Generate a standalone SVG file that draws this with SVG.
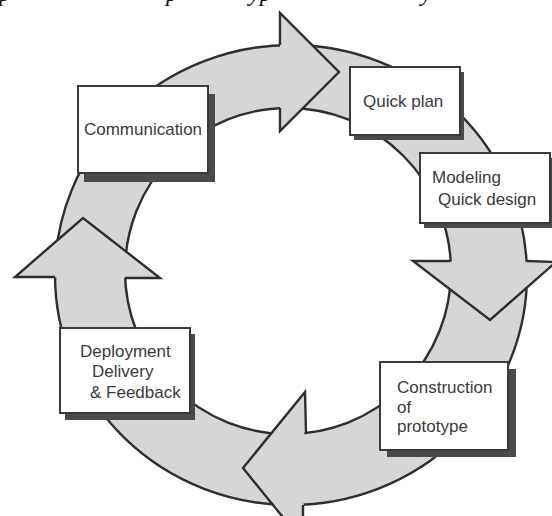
<svg xmlns="http://www.w3.org/2000/svg" width="552" height="516" viewBox="0 0 552 516">
  <style>
    .band { fill: #d6d6d6; stroke: #2e2e2e; stroke-width: 2.4; fill-rule: evenodd; }
    .head { fill: #d6d6d6; stroke: none; }
    .edge { fill: none; stroke: #2e2e2e; stroke-width: 2.4; stroke-linejoin: miter; }
    .shadow { fill: #4a4a4a; }
    .box { fill: #ffffff; stroke: #3a3a3a; stroke-width: 2; }
    .lbl { font-family: "Liberation Sans", Arial, sans-serif; font-size: 17px; fill: #3a3a3a; }
    .cap { font-family: "Liberation Serif", "Times New Roman", serif; font-style: italic; font-size: 24px; fill: #111111; }
  </style>

  <rect width="552" height="516" fill="#ffffff"/>

  <!-- descenders of the caption line above the figure -->
  <text class="cap" y="0.5"><tspan x="-1">p</tspan><tspan x="166">p</tspan><tspan x="249">yp</tspan><tspan x="421">y</tspan></text>

  <!-- cycle ring with its four arrowheads -->
  <g id="connectors">
    <path class="band" d="M55,275 A236,230 0 1,0 527,275 A236,230 0 1,0 55,275 Z M125,271 A163,163 0 1,0 451,271 A163,163 0 1,0 125,271 Z"/>

    <!-- top arrow, pointing right -->
    <polygon class="head" points="280,13 339,72 280,131"/>
    <path class="edge" d="M280,45 L280,13 L339,72 L280,131 L280,108"/>

    <!-- right arrow, pointing down -->
    <polygon class="head" points="413,261 490,320 556,262"/>
    <path class="edge" d="M450.7,261 L413,261 L490,320 L556,262 L526.5,261"/>

    <!-- bottom arrow, pointing left -->
    <polygon class="head" points="305,392 243,468 303,542"/>
    <path class="edge" d="M306,433 L305,392 L243,468 L303,542 L303,505"/>

    <!-- left arrow, pointing up -->
    <polygon class="head" points="15,277 83,218 160,278"/>
    <path class="edge" d="M55,277 L15,277 L83,218 L160,278 L125,278"/>
  </g>

  <g id="communication">
    <rect class="shadow" x="84" y="94" width="131" height="88"/>
    <rect class="box" x="78" y="86" width="130" height="87"/>
    <text class="lbl" x="143" y="135" text-anchor="middle">Communication</text>
  </g>

  <g id="quick-plan">
    <rect class="shadow" x="354" y="72" width="110" height="68"/>
    <rect class="box" x="350" y="67" width="110" height="68"/>
    <text class="lbl" x="363" y="107">Quick plan</text>
  </g>

  <g id="modeling">
    <rect class="shadow" x="424" y="158" width="132" height="70"/>
    <rect class="box" x="420" y="153" width="130" height="70"/>
    <text class="lbl" x="432" y="183">Modeling</text>
    <text class="lbl" x="438" y="205">Quick design</text>
  </g>

  <g id="construction">
    <rect class="shadow" x="387" y="369" width="129" height="88"/>
    <rect class="box" x="380" y="362" width="128" height="88"/>
    <text class="lbl" x="397" y="393">Construction</text>
    <text class="lbl" x="397" y="413">of</text>
    <text class="lbl" x="397" y="432">prototype</text>
  </g>

  <g id="deployment">
    <rect class="shadow" x="65" y="334" width="130" height="86"/>
    <rect class="box" x="60" y="328" width="130" height="85"/>
    <text class="lbl" x="80" y="357">Deployment</text>
    <text class="lbl" x="92" y="377">Delivery</text>
    <text class="lbl" x="90" y="398">&amp; Feedback</text>
  </g>
</svg>
